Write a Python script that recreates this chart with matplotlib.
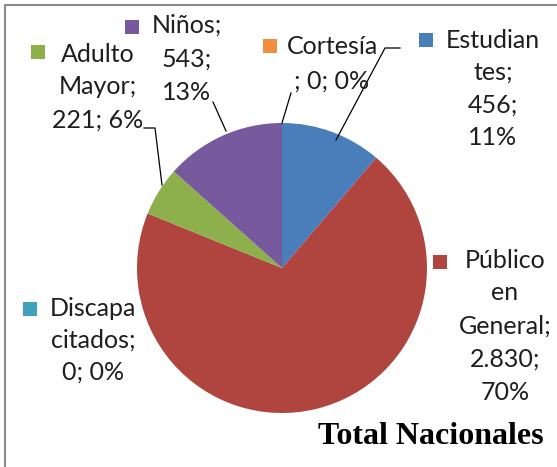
import matplotlib
matplotlib.use("Agg")
import matplotlib.pyplot as plt
from matplotlib.patches import Rectangle

# data (order as drawn, clockwise from 12 o'clock)
categories = ["Estudiantes", "Público en General", "Discapacitados",
              "Adulto Mayor", "Niños", "Cortesía"]
values = [456, 2830, 0, 221, 543, 0]
value_labels = ["456", "2.830", "0", "221", "543", "0"]
pct_labels = ["11%", "70%", "0%", "6%", "13%", "0%"]
colors = ["#4A7EBB", "#B0443F", "#3FA1BC", "#8DB04D", "#77599E", "#F08D3E"]
# label lines as Excel wrapped them
label_lines = [
    ["Estudian", "tes;", "456;", "11%"],
    ["Público", "en", "General;", "2.830;", "70%"],
    ["Discapa", "citados;", "0; 0%"],
    ["Adulto", "Mayor;", "221; 6%"],
    ["Niños;", "543;", "13%"],
    ["Cortesía", "; 0; 0%"],
]
title = "Total Nacionales"

W, H = 557, 467
fig = plt.figure(figsize=(W / 100, H / 100), dpi=100)
ax = fig.add_axes([0, 0, 1, 1])

def Y(y):
    return H - y

ax.pie(values, colors=colors, startangle=90, counterclock=False,
       center=(282, Y(268)), radius=145, frame=True,
       wedgeprops=dict(linewidth=0))

# label layout: text centre x, first line y, marker centre, line step
layout = [
    (493, 40, (426, 40), 32.5),
    (505, 260, (440, 262), 33),
    (93, 308, (30, 309), 32),
    (98, 54, (38, 52), 33),
    (187, 25, (132, 27), 34),
    (332, 47, (270, 46), 34),
]
font = dict(family="Lato", fontsize=18, color="#1e1e1e")
for lines, (cx, y0, (mx, my), step), col in zip(label_lines, layout, colors):
    for k, t in enumerate(lines):
        ax.text(cx, Y(y0 + k * step), t, ha="center", va="center", **font)
    s = 14
    ax.add_patch(Rectangle((mx - s / 2, Y(my) - s / 2), s, s, color=col, lw=0))

# leader lines
leaders = [
    ([336, 385, 400], [140, 48, 48]),
    ([282, 291], [123, 93]),
    ([226, 213], [131, 102]),
    ([162, 155, 144], [185, 128, 128]),
]
for xs, ys in leaders:
    ax.plot(xs, [Y(v) for v in ys], color="black", lw=0.9)

ax.text(431, Y(437), title, ha="center", va="center",
        family="Liberation Serif", fontweight="bold", fontsize=23, color="black")

# chart border (only left and top are inside the picture)
ax.plot([5, 5, W + 10], [Y(H + 10), Y(5), Y(5)], color="#8a8a8a", lw=1.5)

ax.set_xlim(0, W)
ax.set_ylim(0, H)
ax.set_aspect("auto")
ax.axis("off")
fig.savefig("out.png", dpi=100)
